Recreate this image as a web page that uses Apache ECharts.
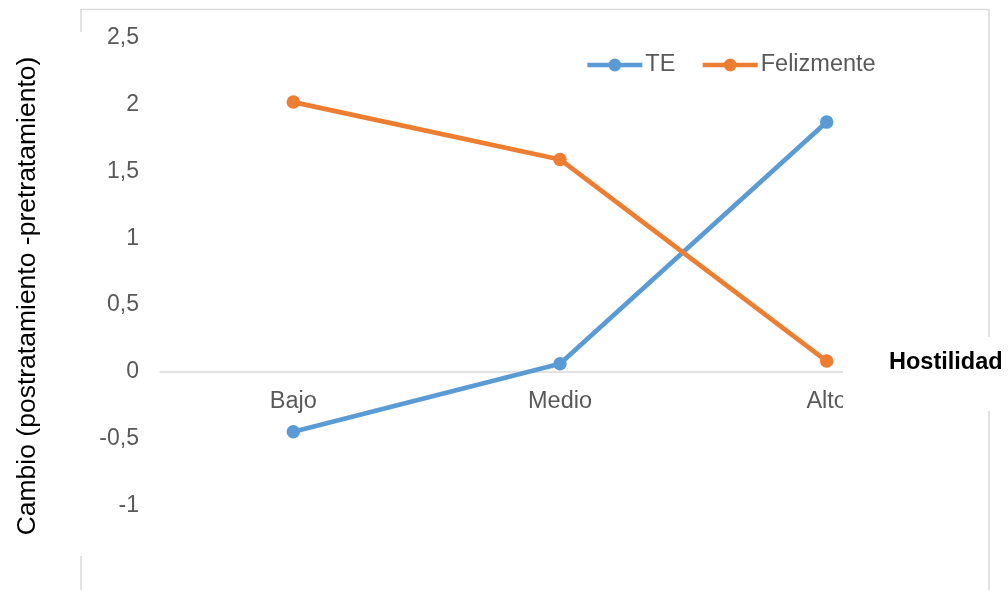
<!DOCTYPE html>
<html>
<head>
<meta charset="utf-8">
<script src="https://cdn.jsdelivr.net/npm/echarts@6/dist/echarts.min.js"></script>
<style>
  html, body { margin: 0; padding: 0; background: #fff; }
  #chart { width: 1008px; height: 590px; }
</style>
</head>
<body>
<div id="chart"></div>
<script>
// Hostility level groups on the category axis
const categories = ['Bajo', 'Medio', 'Alto'];
// Change scores (post-treatment minus pre-treatment)
const teValues = [-0.45, 0.06, 1.87];
const felizmenteValues = [2.02, 1.59, 0.08];
// Value-axis range and step
const yMin = -1.5;
const yMax = 2.5;
const yStep = 0.5;

const FONT = '"Liberation Sans", Arial, sans-serif';
const BORDER = '#d9d9d9';
const GRID_TOP = 38;
const GRID_HEIGHT = 534;

const chart = echarts.init(document.getElementById('chart'), null, { renderer: 'canvas' });

const fmtComma = v => String(v).replace('.', ',');

// The category axis sits on y = 0, so shift it up from the grid bottom
const zeroOffset = -GRID_HEIGHT * (0 - yMin) / (yMax - yMin);

chart.setOption({
  backgroundColor: '#ffffff',
  animation: false,
  grid: { left: 160, top: GRID_TOP, width: 800, height: GRID_HEIGHT, containLabel: false, outerBoundsMode: 'none' },
  legend: {
    left: 585,
    top: 53,
    padding: 0,
    itemWidth: 55,
    itemHeight: 16,
    itemGap: 25,
    lineStyle: { width: 4.7 },
    textStyle: { fontFamily: FONT, fontSize: 23.5, color: '#595959', padding: [0, 0, 0, -2] },
    data: ['TE', 'Felizmente']
  },
  xAxis: {
    type: 'category',
    data: categories,
    boundaryGap: true,
    offset: zeroOffset,
    axisLine: { onZero: false, lineStyle: { color: BORDER, width: 1.5 } },
    axisTick: { show: false },
    axisLabel: { margin: 18, fontFamily: FONT, fontSize: 23.5, color: '#595959' },
    splitLine: { show: false }
  },
  yAxis: {
    type: 'value',
    min: yMin,
    max: yMax,
    interval: yStep,
    axisLine: { show: false },
    axisTick: { show: false },
    splitLine: { show: false },
    axisLabel: {
      margin: 21,
      showMinLabel: false,
      fontFamily: FONT,
      fontSize: 23,
      color: '#595959',
      padding: [4, 0, 0, 0],
      formatter: fmtComma
    }
  },
  series: [
    {
      name: 'TE',
      type: 'line',
      data: teValues,
      symbol: 'circle',
      symbolSize: 13.5,
      color: '#5B9BD5',
      lineStyle: { width: 4.7, color: '#5B9BD5' },
      itemStyle: { color: '#5B9BD5' },
      z: 3
    },
    {
      name: 'Felizmente',
      type: 'line',
      data: felizmenteValues,
      symbol: 'circle',
      symbolSize: 13.5,
      color: '#ED7D31',
      lineStyle: { width: 4.7, color: '#ED7D31' },
      itemStyle: { color: '#ED7D31' },
      z: 4
    }
  ],
  graphic: [
    // outer chart frame, interrupted by the title boxes
    { type: 'line', z: 50, shape: { x1: 81, y1: 9.5, x2: 989, y2: 9.5 }, style: { stroke: BORDER, lineWidth: 1.5 } },
    { type: 'line', z: 50, shape: { x1: 81, y1: 9, x2: 81, y2: 32 }, style: { stroke: BORDER, lineWidth: 1.5 } },
    { type: 'line', z: 50, shape: { x1: 81, y1: 556, x2: 81, y2: 590 }, style: { stroke: BORDER, lineWidth: 1.5 } },
    { type: 'line', z: 50, shape: { x1: 989, y1: 9, x2: 989, y2: 337 }, style: { stroke: BORDER, lineWidth: 1.5 } },
    { type: 'line', z: 50, shape: { x1: 989, y1: 411, x2: 989, y2: 590 }, style: { stroke: BORDER, lineWidth: 1.5 } },
    // horizontal-axis title box
    { type: 'rect', z: 100, shape: { x: 843, y: 337, width: 165, height: 74 }, style: { fill: '#ffffff' } },
    {
      type: 'text', z: 101, x: 889, y: 363,
      style: { text: 'Hostilidad', font: 'bold 23.5px ' + FONT, fill: '#000000', align: 'left', verticalAlign: 'middle' }
    },
    // vertical-axis title
    {
      type: 'text', z: 101, x: 28, y: 296, rotation: Math.PI / 2,
      style: { text: 'Cambio (postratamiento -pretratamiento)', font: '26.5px ' + FONT, fill: '#000000', align: 'center', verticalAlign: 'middle' }
    }
  ]
});
</script>
</body>
</html>
